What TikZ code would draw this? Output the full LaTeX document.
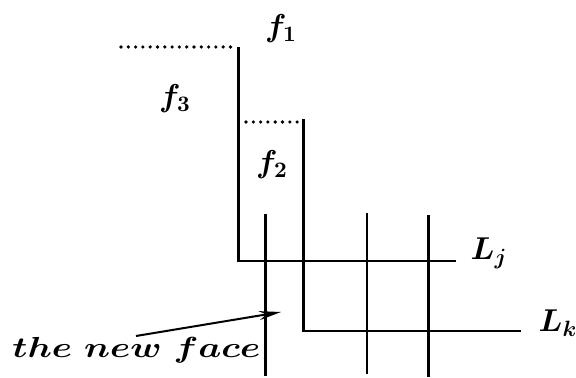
\RequirePackage{fix-cm}
\documentclass[tikz,border=0pt]{standalone}
\usepackage{bm}
\usetikzlibrary{arrows.meta}
\tikzset{
  edge/.style={line width=1.4pt},
  dotline/.style={line width=1.8pt, line cap=round, dash pattern=on 0pt off 3.65pt},
  lbl/.style={inner sep=0pt, font=\fontsize{15.8}{19}\selectfont},
  ptr/.style={line width=1pt, -{Stealth[length=11pt,width=4.5pt]}}
}
\begin{document}
\begin{tikzpicture}[x=0.5pt,y=-0.5pt]
\useasboundingbox (0,0) rectangle (576,378);
% coordinates
\coordinate (d1a) at (121,47);
\coordinate (a1) at (238.5,47);
\coordinate (c1) at (238.5,261);
\coordinate (e1) at (456,261);
\coordinate (d2a) at (246,122);
\coordinate (a2) at (303.5,119);
\coordinate (c2) at (303.5,331);
\coordinate (e2) at (521,331);
\coordinate (v1t) at (265.5,214);
\coordinate (v1b) at (265.5,376);
\coordinate (v2t) at (367,213);
\coordinate (v2b) at (367,374);
\coordinate (v3t) at (428.5,215);
\coordinate (v3b) at (428.5,377);
\coordinate (tail) at (136,336);
\coordinate (head) at (281,312);
% dotted
\draw[dotline] (d1a) -- (a1 -| 235,0);
\draw[dotline] (d2a) -- (d2a -| 299,0);
% step lines
\draw[edge] (a1) -- (c1) -- (e1);
\draw[edge] (a2) -- (c2) -- (e2);
\draw[edge] (v1t) -- (v1b);
\draw[edge] (v2t) -- (v2b);
\draw[edge] (v3t) -- (v3b);
% labels
\node[lbl] (f1) at (281,29) {$\bm{f_1}$};
\node[lbl] (f3) at (175,99) {$\bm{f_3}$};
\node[lbl] (f2) at (272,165) {$\bm{f_2}$};
\node[lbl] (Lj) at (489,253) {$\bm{L_j}$};
\node[lbl] (Lk) at (558,323) {$\bm{L_k}$};
\node[lbl, anchor=base west, font=\fontsize{14.5}{17}\selectfont] (face) at (12,357) {\scalebox{1.26}[1]{$\bm{the\ new\ face}$}};
\draw[ptr] (tail) -- (head);
\end{tikzpicture}
\end{document}
